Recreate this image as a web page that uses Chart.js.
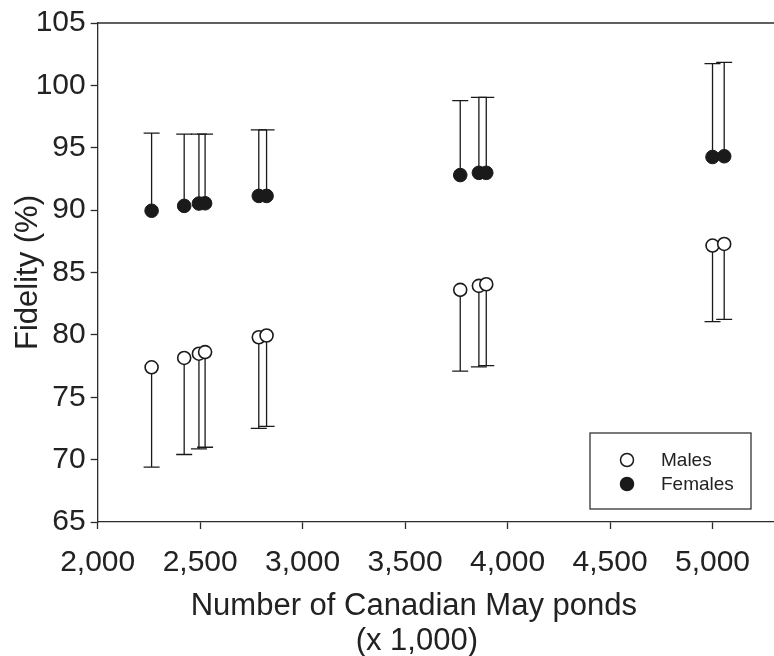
<!DOCTYPE html>
<html>
<head>
<meta charset="utf-8">
<script src="https://cdn.jsdelivr.net/npm/chart.js@4"></script>
<style>
  html, body { margin: 0; padding: 0; background: #fff; }
  #wrap { width: 774px; height: 656px; }
</style>
</head>
<body>
<div id="wrap"><canvas id="c" width="774" height="656"></canvas></div>
<script>
// ---- data ----
const ponds = [2263, 2422, 2494, 2524, 2786, 2824, 3769, 3860, 3896, 5000, 5057];
const maleFidelity = [77.4, 78.15, 78.49, 78.62, 79.81, 79.95, 83.61, 83.93, 84.06, 87.16, 87.29];
const maleLower = [69.4, 70.41, 70.86, 70.99, 72.5, 72.66, 77.09, 77.43, 77.54, 81.06, 81.25];
const femaleFidelity = [89.95, 90.34, 90.53, 90.55, 91.14, 91.14, 92.81, 92.99, 92.99, 94.26, 94.32];
const femaleUpper = [96.17, 96.1, 96.1, 96.1, 96.44, 96.44, 98.77, 99.04, 99.04, 101.74, 101.84];
const xTickValues = [2000, 2500, 3000, 3500, 4000, 4500, 5000];
const yTickValues = [65, 70, 75, 80, 85, 90, 95, 100, 105];
const seriesLabels = ['Males', 'Females'];
const xTitleLines = ['Number of Canadian May ponds', '(x 1,000)'];
const yTitle = 'Fidelity (%)';

const FONT = '"Liberation Sans", Arial, Helvetica, sans-serif';
const AXIS = '#2b2b2b';
const TEXT = '#222222';

const errorBars = {
  id: 'errorBars',
  beforeDatasetsDraw(chart) {
    const ctx = chart.ctx, xs = chart.scales.x, ys = chart.scales.y;
    ctx.save();
    chart.data.datasets.forEach(ds => {
      if (!ds.errEnd) return;
      ctx.strokeStyle = '#1a1a1a';
      ctx.lineWidth = 1.3;
      ds.data.forEach((p, i) => {
        const px = xs.getPixelForValue(p.x);
        const py = ys.getPixelForValue(p.y);
        const pe = ys.getPixelForValue(ds.errEnd[i]);
        ctx.beginPath();
        ctx.moveTo(px, py);
        ctx.lineTo(px, pe);
        ctx.moveTo(px - 8, pe);
        ctx.lineTo(px + 8, pe);
        ctx.stroke();
      });
    });
    ctx.restore();
  }
};

const frameAndTitle = {
  id: 'frameAndTitle',
  afterDraw(chart) {
    const ctx = chart.ctx, a = chart.chartArea;
    ctx.save();
    // top frame line
    ctx.strokeStyle = AXIS;
    ctx.lineWidth = 1.3;
    ctx.beginPath();
    ctx.moveTo(a.left, a.top);
    ctx.lineTo(a.right, a.top);
    ctx.stroke();
    // x title (two lines)
    ctx.fillStyle = TEXT;
    ctx.font = '31px ' + FONT;
    ctx.textAlign = 'center';
    ctx.textBaseline = 'alphabetic';
    const cx = (a.left + a.right) / 2 - 22;
    ctx.fillText(xTitleLines[0], cx, a.bottom + 93);
    ctx.fillText(xTitleLines[1], cx + 3, a.bottom + 128);
    // legend box
    const bx = 590, by = 433, bw = 161, bh = 76;
    ctx.strokeStyle = '#333';
    ctx.lineWidth = 1.3;
    ctx.strokeRect(bx, by, bw, bh);
    ctx.font = '19px ' + FONT;
    ctx.textAlign = 'left';
    ctx.textBaseline = 'middle';
    chart.data.datasets.forEach((ds, i) => {
      const my = by + 27 + i * 24;
      ctx.beginPath();
      ctx.arc(bx + 37, my, 6.5, 0, Math.PI * 2);
      ctx.fillStyle = ds.pointBackgroundColor;
      ctx.fill();
      ctx.lineWidth = 1.5;
      ctx.strokeStyle = ds.pointBorderColor;
      ctx.stroke();
      ctx.fillStyle = TEXT;
      ctx.fillText(ds.label, bx + 71, my + 1);
    });
    ctx.restore();
  }
};

new Chart(document.getElementById('c'), {
  type: 'scatter',
  data: {
    datasets: [
      {
        label: seriesLabels[0],
        data: ponds.map((x, i) => ({ x, y: maleFidelity[i] })),
        errEnd: maleLower,
        pointRadius: 6.5,
        pointHoverRadius: 6.5,
        pointBackgroundColor: '#ffffff',
        pointBorderColor: '#1a1a1a',
        pointBorderWidth: 1.6,
        showLine: false,
        clip: false
      },
      {
        label: seriesLabels[1],
        data: ponds.map((x, i) => ({ x, y: femaleFidelity[i] })),
        errEnd: femaleUpper,
        pointRadius: 6.8,
        pointHoverRadius: 6.8,
        pointBackgroundColor: '#1a1a1a',
        pointBorderColor: '#1a1a1a',
        pointBorderWidth: 1,
        showLine: false,
        clip: false
      }
    ]
  },
  options: {
    responsive: false,
    animation: false,
    events: [],
    layout: { autoPadding: false, padding: { top: 19, right: 0, left: 0, bottom: 0 } },
    plugins: {
      legend: { display: false },
      tooltip: { enabled: false }
    },
    scales: {
      x: {
        type: 'linear',
        min: 2000,
        max: 5300,
        afterBuildTicks(scale) { scale.ticks = xTickValues.map(v => ({ value: v })); },
        afterFit(scale) { scale.height = 134; scale.paddingLeft = 0; scale.paddingRight = 0; },
        border: { display: true, color: AXIS, width: 1.3 },
        grid: { display: true, drawOnChartArea: false, drawTicks: true, tickLength: 7, tickColor: AXIS, tickWidth: 1.3 },
        ticks: {
          color: TEXT,
          padding: 16,
          maxRotation: 0,
          autoSkip: false,
          font: { family: FONT, size: 30 },
          callback: v => Number(v).toLocaleString('en-US')
        },
        title: { display: false }
      },
      y: {
        type: 'linear',
        min: 65,
        max: 105,
        afterBuildTicks(scale) { scale.ticks = yTickValues.map(v => ({ value: v })); },
        afterFit(scale) { scale.width = 97.7; },
        border: { display: true, color: AXIS, width: 1.3 },
        grid: { display: true, drawOnChartArea: false, drawTicks: true, tickLength: 7, tickColor: AXIS, tickWidth: 1.3 },
        ticks: {
          color: TEXT,
          padding: 5,
          autoSkip: false,
          font: { family: FONT, size: 30 },
          callback: v => String(v)
        },
        title: {
          display: true,
          text: yTitle,
          color: TEXT,
          font: { family: FONT, size: 31 },
          padding: { top: 10, bottom: 0 }
        }
      }
    }
  },
  plugins: [errorBars, frameAndTitle]
});
</script>
</body>
</html>
